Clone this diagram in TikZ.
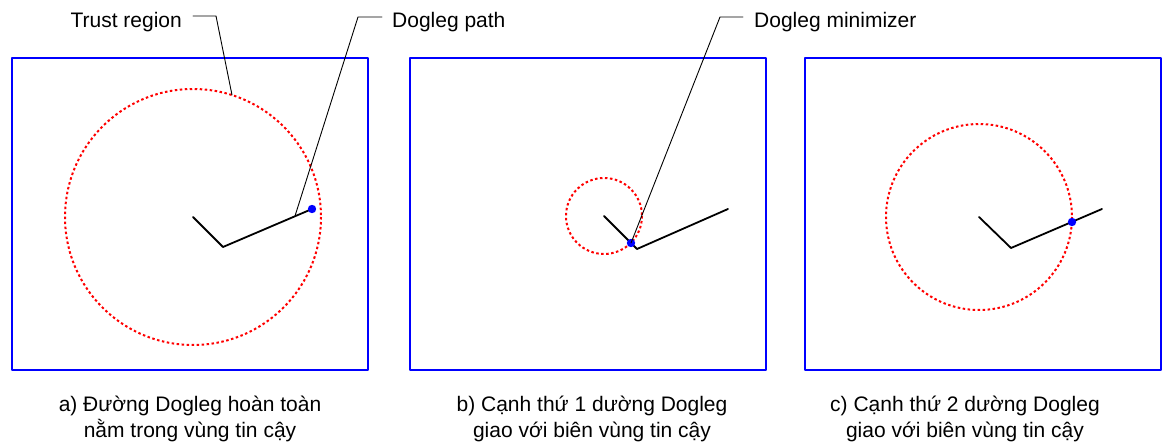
\documentclass[tikz,border=0pt]{standalone}
\usepackage{fontspec}
\setmainfont{Liberation Sans}
\begin{document}
\begin{tikzpicture}[x=1pt, y=-1pt, line cap=round, line join=round,
  font=\fontsize{21}{26}\selectfont,
  frame/.style={draw=blue, line width=2pt, line cap=butt},
  region/.style={draw=red, line width=2pt, line cap=butt, dash pattern=on 2.5pt off 2.5pt},
  legs/.style={draw=black, line width=1.8pt},
  leader/.style={draw=black, line width=0.9pt},
  hit/.style={fill=blue},
  tag/.style={inner sep=0pt, anchor=base west},
  caption/.style={align=center, anchor=base, inner sep=0pt}]
  \useasboundingbox (0,0) rectangle (1162,443);

  % frames
  \draw[frame] (12,58) rectangle (368,370);
  \draw[frame] (410,58) rectangle (766,370);
  \draw[frame] (805,58) rectangle (1161,370);

  % a) dogleg inside the region
  \coordinate (A0) at (193,217);
  \coordinate (A1) at (223,247);
  \coordinate (A2) at (312,209);
  \draw[region] (A0) circle (128);
  \draw[legs] (A0)--(A1)--(A2);
  \fill[hit] (A2) circle (4.2);

  % b) first leg hits the boundary
  \coordinate (B0) at (604,216);
  \coordinate (B1) at (637,249);
  \coordinate (B2) at (728,209);
  \coordinate (Bx) at (631,243);
  \draw[region] (B0) circle (38);
  \draw[legs] (B0)--(B1)--(B2);
  \fill[hit] (Bx) circle (4.2);

  % c) second leg hits the boundary
  \coordinate (C0) at (979,217);
  \coordinate (C1) at (1011,248);
  \coordinate (C2) at (1102,209);
  \coordinate (Cx) at (1072,222);
  \draw[region] (C0) circle (93);
  \draw[legs] (C0)--(C1)--(C2);
  \fill[hit] (Cx) circle (4.2);

  % callouts
  \node[tag, anchor=base east] (trust) at (182,28) {Trust region};
  \node[tag] (path) at (392,28) {Dogleg path};
  \node[tag] (mini) at (754,28) {Dogleg minimizer};

  \coordinate (Ta) at (193,16);
  \coordinate (Tb) at (216,16);
  \coordinate (Tc) at (232,95);
  \coordinate (Pa) at (382,17);
  \coordinate (Pb) at (358,17);
  \coordinate (Pc) at (295,216);
  \coordinate (Ma) at (743,17);
  \coordinate (Mb) at (720,17);

  \draw[leader] (Ta)--(Tb)--(Tc);
  \draw[leader] (Pa)--(Pb)--(Pc);
  \draw[leader] (Ma)--(Mb)--(Bx);

  % captions
  \node[caption] (capA) at (190,437) {a) Đường Dogleg hoàn toàn\\nằm trong vùng tin cậy};
  \node[caption] (capB) at (592,437) {b) Cạnh thứ 1 dường Dogleg\\giao với biên vùng tin cậy};
  \node[caption] (capC) at (965,437) {c) Cạnh thứ 2 dường Dogleg\\giao với biên vùng tin cậy};
\end{tikzpicture}
\end{document}
